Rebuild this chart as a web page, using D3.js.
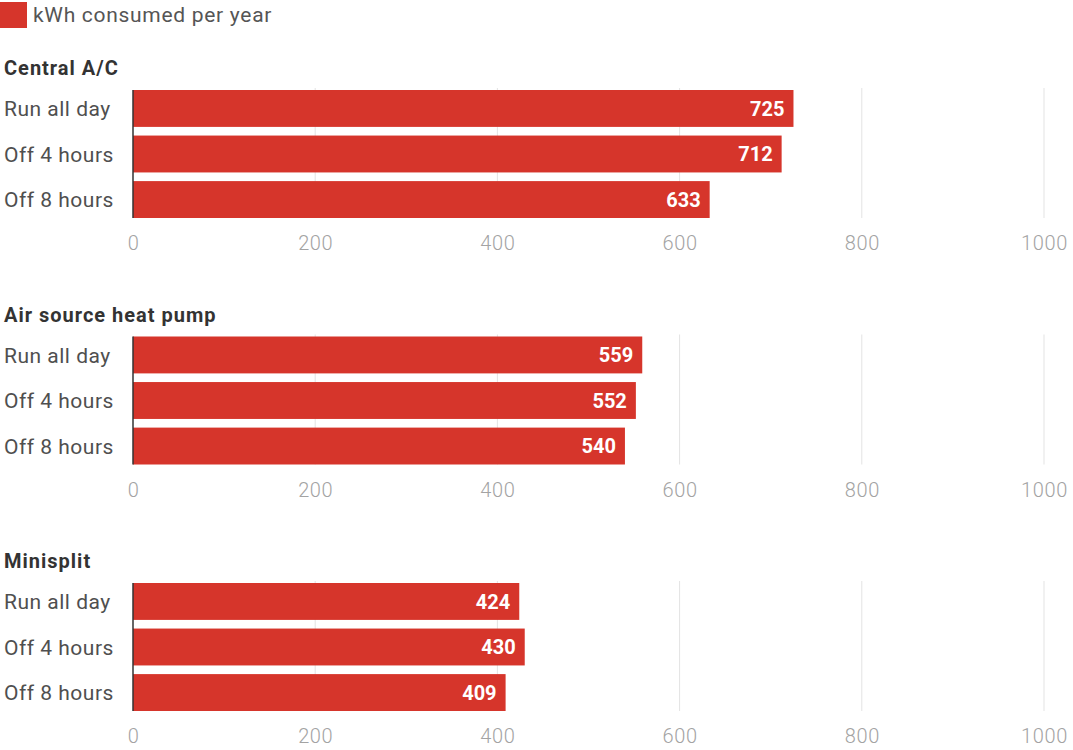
<!DOCTYPE html>
<html>
<head>
<meta charset="utf-8">
<script src="https://cdn.jsdelivr.net/npm/d3@7"></script>
<style>
  html, body { margin: 0; padding: 0; background: #fff; }
  svg { display: block; font-family: Roboto, "Noto Sans", sans-serif; }
</style>
</head>
<body>
<svg id="chart" width="1073" height="750"></svg>
<script>
// Annual energy use by cooling system and run schedule
const seriesName = "kWh consumed per year";
const systems = ["Central A/C", "Air source heat pump", "Minisplit"];
const schedules = ["Run all day", "Off 4 hours", "Off 8 hours"];
const centralAC = [725, 712, 633];
const airSourceHeatPump = [559, 552, 540];
const minisplit = [424, 430, 409];
const tickValues = [0, 200, 400, 600, 800, 1000];

const panelValues = [centralAC, airSourceHeatPump, minisplit];

const barColor = "#d6352b";
const svg = d3.select("#chart");

// legend
svg.append("rect").attr("x", 0).attr("y", 2).attr("width", 27).attr("height", 26).attr("fill", barColor);
svg.append("text").attr("x", 33).attr("y", 22)
  .attr("font-size", 21).attr("letter-spacing", "0.7px").attr("fill", "#555").text(seriesName);

const x = d3.scaleLinear().domain([0, 1000]).range([133, 1044]);

const panelTop = 90, panelStep = 246.5, bandHeight = 128;

systems.forEach((name, i) => {
  const top = panelTop + i * panelStep;
  const values = panelValues[i];
  const data = schedules.map((s, j) => ({ schedule: s, value: values[j] }));

  const y = d3.scaleBand().domain(schedules)
    .range([top, top + bandHeight]).paddingInner(0.19).paddingOuter(0);

  const g = svg.append("g");

  // panel title
  g.append("text").attr("x", 4).attr("y", top - 15)
    .attr("font-size", 20).attr("font-weight", 700).attr("letter-spacing", "1px")
    .attr("fill", "#333").text(name);

  // vertical gridlines
  g.selectAll("line.grid").data(tickValues.slice(1)).join("line")
    .attr("class", "grid")
    .attr("x1", d => x(d)).attr("x2", d => x(d))
    .attr("y1", top - 2).attr("y2", top + bandHeight)
    .attr("stroke", "#e3e3e3").attr("stroke-width", 1);

  // bottom tick labels
  const axis = d3.axisBottom(x).tickValues(tickValues).tickSize(0).tickPadding(0).tickFormat(d3.format("d"));
  const ax = g.append("g").attr("transform", `translate(0,${top + bandHeight + 32})`).call(axis);
  ax.select(".domain").remove();
  ax.selectAll("text").attr("font-size", 20).attr("font-weight", 300)
    .attr("letter-spacing", "0.6px")
    .attr("fill", "#a3a3a3").attr("dy", 0).attr("font-family", "Roboto, sans-serif");

  // bars
  g.selectAll("rect.bar").data(data).join("rect")
    .attr("class", "bar")
    .attr("x", x(0)).attr("y", d => y(d.schedule))
    .attr("width", d => x(d.value) - x(0)).attr("height", y.bandwidth())
    .attr("fill", barColor);

  // baseline
  g.append("line").attr("x1", x(0)).attr("x2", x(0))
    .attr("y1", top).attr("y2", top + bandHeight)
    .attr("stroke", "#333").attr("stroke-width", 1.5);

  // category labels
  g.selectAll("text.cat").data(data).join("text")
    .attr("class", "cat")
    .attr("x", 4).attr("y", d => y(d.schedule) + y.bandwidth() / 2)
    .attr("dy", "0.36em").attr("font-size", 21).attr("letter-spacing", "0.5px")
    .attr("fill", "#4f4f4f")
    .text(d => d.schedule);

  // value labels
  g.selectAll("text.val").data(data).join("text")
    .attr("class", "val")
    .attr("x", d => x(d.value) - 9).attr("y", d => y(d.schedule) + y.bandwidth() / 2)
    .attr("dy", "0.36em").attr("text-anchor", "end")
    .attr("font-size", 20).attr("font-weight", 700).attr("fill", "#fff")
    .text(d => d.value);
});
</script>
</body>
</html>
